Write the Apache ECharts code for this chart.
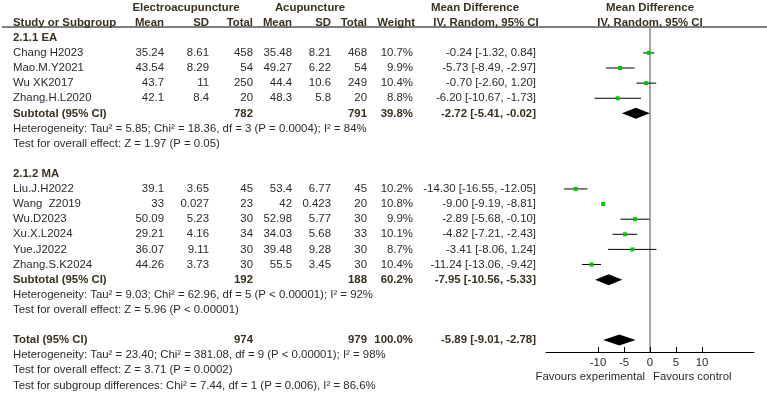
<!DOCTYPE html>
<html>
<head>
<meta charset="utf-8">
<script src="https://cdn.jsdelivr.net/npm/echarts@6/dist/echarts.min.js"></script>
<style>
html, body { margin: 0; padding: 0; background: #fff; }
#container { width: 767px; height: 393px; }
</style>
</head>
<body>
<div id="container"></div>
<script>
// ---- data ----
var eaNames   = ['Chang H2023', 'Mao.M.Y2021', 'Wu XK2017', 'Zhang.H.L2020'];
var eaExpMean = [35.24, 43.54, 43.7, 42.1];
var eaExpSD   = [8.61, 8.29, 11, 8.4];
var eaExpN    = [458, 54, 250, 20];
var eaConMean = [35.48, 49.27, 44.4, 48.3];
var eaConSD   = [8.21, 6.22, 10.6, 5.8];
var eaConN    = [468, 54, 249, 20];
var eaWeight  = [10.7, 9.9, 10.4, 8.8];
var eaMD      = [-0.24, -5.73, -0.70, -6.20];
var eaLo      = [-1.32, -8.49, -2.60, -10.67];
var eaHi      = [0.84, -2.97, 1.20, -1.73];
var eaSub     = { expN: 782, conN: 791, weight: 39.8, md: -2.72, lo: -5.41, hi: -0.02 };
var eaHet     = 'Heterogeneity: Tau\u00b2 = 5.85; Chi\u00b2 = 18.36, df = 3 (P = 0.0004); I\u00b2 = 84%';
var eaTest    = 'Test for overall effect: Z = 1.97 (P = 0.05)';

var maNames   = ['Liu.J.H2022', 'Wang  Z2019', 'Wu.D2023', 'Xu.X.L2024', 'Yue.J2022', 'Zhang.S.K2024'];
var maExpMean = [39.1, 33, 50.09, 29.21, 36.07, 44.26];
var maExpSD   = [3.65, 0.027, 5.23, 4.16, 9.11, 3.73];
var maExpN    = [45, 23, 30, 34, 30, 30];
var maConMean = [53.4, 42, 52.98, 34.03, 39.48, 55.5];
var maConSD   = [6.77, 0.423, 5.77, 5.68, 9.28, 3.45];
var maConN    = [45, 20, 30, 33, 30, 30];
var maWeight  = [10.2, 10.8, 9.9, 10.1, 8.7, 10.4];
var maMD      = [-14.30, -9.00, -2.89, -4.82, -3.41, -11.24];
var maLo      = [-16.55, -9.19, -5.68, -7.21, -8.06, -13.06];
var maHi      = [-12.05, -8.81, -0.10, -2.43, 1.24, -9.42];
var maSub     = { expN: 192, conN: 188, weight: 60.2, md: -7.95, lo: -10.56, hi: -5.33 };
var maHet     = 'Heterogeneity: Tau\u00b2 = 9.03; Chi\u00b2 = 62.96, df = 5 (P < 0.00001); I\u00b2 = 92%';
var maTest    = 'Test for overall effect: Z = 5.96 (P < 0.00001)';

var total     = { expN: 974, conN: 979, weight: 100.0, md: -5.89, lo: -9.01, hi: -2.78 };
var totHet    = 'Heterogeneity: Tau\u00b2 = 23.40; Chi\u00b2 = 381.08, df = 9 (P < 0.00001); I\u00b2 = 98%';
var totTest   = 'Test for overall effect: Z = 3.71 (P = 0.0002)';
var subDiff   = 'Test for subgroup differences: Chi\u00b2 = 7.44, df = 1 (P = 0.006), I\u00b2 = 86.6%';

var axisTicks = [-10, -5, 0, 5, 10];

// ---- layout ----
var W = 767, H = 393;
var ROW_MIN = -3.5, ROW_MAX = 22.5;
var rowH = H / (ROW_MAX - ROW_MIN);
function rowAt(py) { return ROW_MIN + py / rowH; }

var col = { name: 13, eMean: 164, eSD: 209, eN: 253, aMean: 292, aSD: 331, aN: 367, weight: 413, ci: 536 };
var plot = { left: 546, right: 754, top: 27, bottom: 352 };
var FONT = '"Liberation Sans", Arial, sans-serif';
var FS = 11.4;
var textColor = '#2b2b2b';
var boldColor = '#3a3120';

var texts = [];   // [x, row, text, align, bold]
var boxes = [];   // [md, row, lo, hi]
var diamonds = []; // [md, row, lo, hi]

function t(x, row, s, align, bold) { texts.push([x, row, s, align || 'left', bold ? 1 : 0]); }
function ci(md, lo, hi) { return md.toFixed(2) + ' [' + lo.toFixed(2) + ', ' + hi.toFixed(2) + ']'; }

// headers
t(186, -3, 'Electroacupuncture', 'center', 1);
t(310, -3, 'Acupuncture', 'center', 1);
t(475, -3, 'Mean Difference', 'center', 1);
t(650, -3, 'Mean Difference', 'center', 1);
t(col.name, -2, 'Study or Subgroup', 'left', 1);
t(col.eMean, -2, 'Mean', 'right', 1);
t(col.eSD, -2, 'SD', 'right', 1);
t(col.eN, -2, 'Total', 'right', 1);
t(col.aMean, -2, 'Mean', 'right', 1);
t(col.aSD, -2, 'SD', 'right', 1);
t(col.aN, -2, 'Total', 'right', 1);
t(415, -2, 'Weight', 'right', 1);
t(486, -2, 'IV, Random, 95% CI', 'center', 1);
t(650, -2, 'IV, Random, 95% CI', 'center', 1);

function group(r0, label, names, em, es, en, cm, cs, cn, w, md, lo, hi, sub, het, test) {
    t(col.name, r0, label, 'left', 1);
    for (var i = 0; i < names.length; i++) {
        var r = r0 + 1 + i;
        t(col.name, r, names[i]);
        t(col.eMean, r, String(em[i]), 'right');
        t(col.eSD, r, String(es[i]), 'right');
        t(col.eN, r, String(en[i]), 'right');
        t(col.aMean, r, String(cm[i]), 'right');
        t(col.aSD, r, String(cs[i]), 'right');
        t(col.aN, r, String(cn[i]), 'right');
        t(col.weight, r, w[i].toFixed(1) + '%', 'right');
        t(col.ci, r, ci(md[i], lo[i], hi[i]), 'right');
        boxes.push([md[i], r, lo[i], hi[i]]);
    }
    var rs = r0 + 1 + names.length;
    t(col.name, rs, 'Subtotal (95% CI)', 'left', 1);
    t(col.eN, rs, String(sub.expN), 'right', 1);
    t(col.aN, rs, String(sub.conN), 'right', 1);
    t(col.weight, rs, sub.weight.toFixed(1) + '%', 'right', 1);
    t(col.ci, rs, ci(sub.md, sub.lo, sub.hi), 'right', 1);
    diamonds.push([sub.md, rs, sub.lo, sub.hi]);
    t(col.name, rs + 1, het);
    t(col.name, rs + 2, test);
}

group(-1, '2.1.1 EA', eaNames, eaExpMean, eaExpSD, eaExpN, eaConMean, eaConSD, eaConN, eaWeight, eaMD, eaLo, eaHi, eaSub, eaHet, eaTest);
group(8, '2.1.2 MA', maNames, maExpMean, maExpSD, maExpN, maConMean, maConSD, maConN, maWeight, maMD, maLo, maHi, maSub, maHet, maTest);

t(col.name, 19, 'Total (95% CI)', 'left', 1);
t(col.eN, 19, String(total.expN), 'right', 1);
t(col.aN, 19, String(total.conN), 'right', 1);
t(col.weight, 19, total.weight.toFixed(1) + '%', 'right', 1);
t(col.ci, 19, ci(total.md, total.lo, total.hi), 'right', 1);
diamonds.push([total.md, 19, total.lo, total.hi]);
t(col.name, 20, totHet);
t(col.name, 21, totTest);
t(col.name, 22, subDiff);

t(645, rowAt(377), 'Favours experimental', 'right');
t(653, rowAt(377), 'Favours control', 'left');

var dom = document.getElementById('container');
var myChart = echarts.init(dom);

var option = {
    animation: false,
    backgroundColor: '#fff',
    grid: [
        { left: 0, top: 0, width: W, height: H },
        { left: plot.left, top: plot.top, width: plot.right - plot.left, height: plot.bottom - plot.top }
    ],
    xAxis: [
        { gridIndex: 0, type: 'value', min: 0, max: W, show: false },
        {
            gridIndex: 1, type: 'value', min: -20, max: 20,
            splitLine: { show: false },
            axisLine: { onZero: false, lineStyle: { color: '#000', width: 1 } },
            axisTick: { inside: true, length: 5, customValues: axisTicks, lineStyle: { color: '#000' } },
            axisLabel: { customValues: axisTicks, margin: 5, color: textColor, fontSize: FS, fontFamily: FONT }
        }
    ],
    yAxis: [
        { gridIndex: 0, type: 'value', min: ROW_MIN, max: ROW_MAX, inverse: true, show: false },
        {
            gridIndex: 1, type: 'value', min: rowAt(plot.top), max: rowAt(plot.bottom), inverse: true,
            splitLine: { show: false },
            axisLine: { show: true, onZero: true, lineStyle: { color: '#888', width: 1.5 } },
            axisTick: { show: false },
            axisLabel: { show: false }
        }
    ],
    graphic: [{
        type: 'line',
        shape: { x1: 2, y1: plot.top, x2: W, y2: plot.top },
        style: { stroke: '#000', lineWidth: 1 }
    }],
    series: [
        {
            type: 'custom',
            xAxisIndex: 0, yAxisIndex: 0,
            data: texts.map(function (d) { return [d[0], d[1]]; }),
            renderItem: function (params, api) {
                var d = texts[params.dataIndex];
                var p = api.coord([api.value(0), api.value(1)]);
                return {
                    type: 'text', x: p[0], y: p[1],
                    style: {
                        text: d[2],
                        fill: d[4] ? boldColor : textColor,
                        font: (d[4] ? 'bold ' : '') + FS + 'px ' + FONT,
                        align: d[3], textAlign: d[3],
                        verticalAlign: 'middle', textVerticalAlign: 'middle'
                    }
                };
            }
        },
        {
            type: 'custom',
            xAxisIndex: 1, yAxisIndex: 1,
            data: boxes,
            renderItem: function (params, api) {
                var r = api.value(1);
                var a = api.coord([api.value(2), r]);
                var b = api.coord([api.value(3), r]);
                var c = api.coord([api.value(0), r]);
                var s = 4;
                return {
                    type: 'group',
                    children: [
                        { type: 'line', shape: { x1: a[0], y1: a[1], x2: b[0], y2: b[1] }, style: { stroke: '#000', lineWidth: 1 } },
                        { type: 'rect', shape: { x: c[0] - s / 2, y: c[1] - s / 2, width: s, height: s }, style: { fill: '#00c800' } }
                    ]
                };
            }
        },
        {
            type: 'custom',
            xAxisIndex: 1, yAxisIndex: 1,
            data: diamonds,
            renderItem: function (params, api) {
                var r = api.value(1);
                var a = api.coord([api.value(2), r]);
                var b = api.coord([api.value(3), r]);
                var c = api.coord([api.value(0), r]);
                var h = 5.5;
                return {
                    type: 'polygon',
                    shape: { points: [[a[0], a[1]], [c[0], c[1] - h], [b[0], b[1]], [c[0], c[1] + h]] },
                    style: { fill: '#000' }
                };
            }
        }
    ]
};

if (option && typeof option === 'object') {
    myChart.setOption(option, true);
}
</script>
</body>
</html>
